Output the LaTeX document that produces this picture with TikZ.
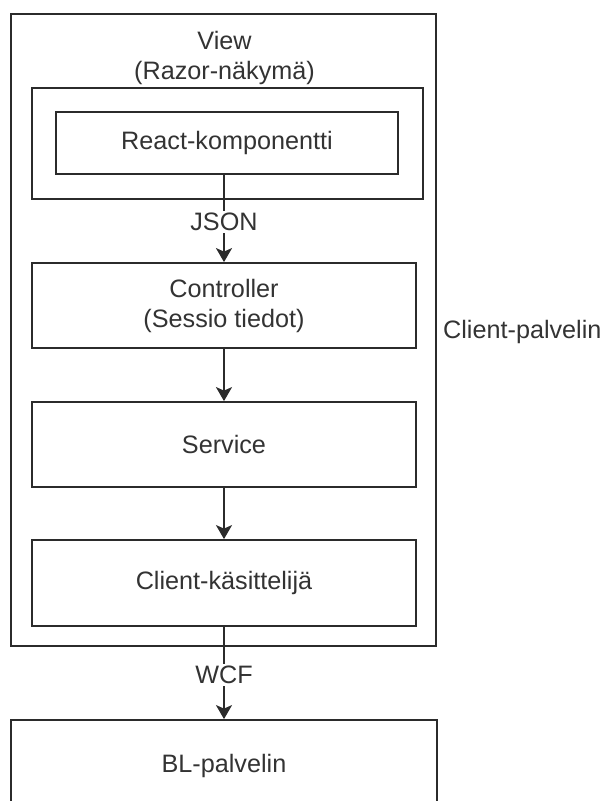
\documentclass[tikz,border=0pt]{standalone}
\usepackage{fontspec}
\setmainfont{Liberation Sans}
\usetikzlibrary{arrows.meta}
\definecolor{ln}{HTML}{2B2B2B}
\definecolor{tx}{HTML}{333333}
\begin{document}
\begin{tikzpicture}[x=1pt,y=-1pt,
  every node/.style={font=\fontsize{25.2}{30}\selectfont, text=tx, inner sep=0pt, align=center},
  box/.style={draw=ln, line width=1.8pt, rectangle, fill=white},
  conn/.style={draw=ln, line width=2pt, -{Stealth[length=14pt,width=16pt,inset=3.5pt]}},
  lbl/.style={fill=white, inner sep=2pt}]
\useasboundingbox (0,0) rectangle (605,801);
\clip (0,0) rectangle (605,801);
% outer client server box
\node[box, minimum width=425, minimum height=632] (client) at (223.5,330) {};
\node[anchor=west] (clientlbl) at (443,332) {Client-palvelin};
\node (view) at (224.5,58) {View\\(Razor-näkymä)};
\node[box, minimum width=391, minimum height=111] (razor) at (227.5,143.5) {};
\node[box, minimum width=342, minimum height=62] (react) at (227,143) {React-komponentti};
\node[box, minimum width=384, minimum height=85] (ctrl) at (224,305.5) {Controller\\(Sessio tiedot)};
\node[box, minimum width=384, minimum height=85] (service) at (224,444.5) {Service};
\node[box, minimum width=384, minimum height=86] (handler) at (224,583) {Client-käsittelijä};
\node[box, minimum width=426, minimum height=92] (bl) at (224,766) {BL-palvelin};
% connectors
\draw[conn] (react.south -| ctrl.north) -- node[lbl, pos=0.54] {JSON} (ctrl.north);
\draw[conn] (ctrl) -- (service);
\draw[conn] (service) -- (handler);
\draw[conn] (handler) -- node[lbl, pos=0.52] {WCF} (bl.north);
\end{tikzpicture}
\end{document}
